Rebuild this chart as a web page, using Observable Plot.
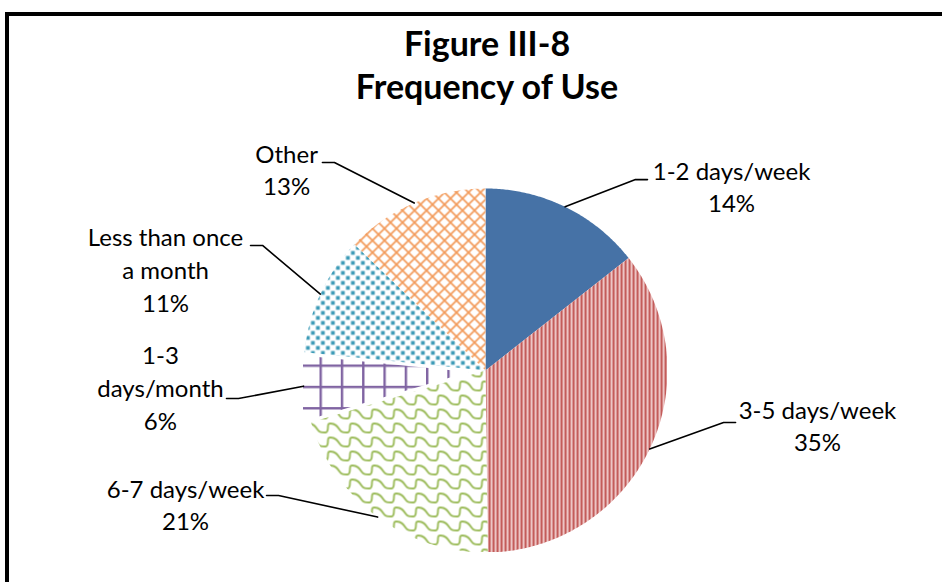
<!DOCTYPE html>
<html><head><meta charset="utf-8">
<script src="https://cdn.jsdelivr.net/npm/d3@7"></script>
<script src="https://cdn.jsdelivr.net/npm/@observablehq/plot@0.6"></script>
<style>
html,body{margin:0;padding:0;background:#fff;width:942px;height:582px;overflow:hidden;}
#box{position:absolute;left:5px;top:12px;width:1000px;height:700px;border-top:4px solid #000;border-left:4px solid #000;}
#title{position:absolute;left:0;top:21px;width:974px;text-align:center;font-family:Lato,sans-serif;font-weight:bold;font-size:34px;line-height:43px;color:#000;}
#chart{position:absolute;left:0;top:0;}
</style></head><body>
<div id="box"></div>
<div id="title">Figure III-8<br>Frequency of Use</div>
<div id="chart"></div>
<script>
// ---- data ----
const categories = ["1-2 days/week", "3-5 days/week", "6-7 days/week", "1-3 days/month", "Less than once a month", "Other"];
const labelLines = [["1-2 days/week"], ["3-5 days/week"], ["6-7 days/week"], ["1-3", "days/month"], ["Less than once", "a month"], ["Other"]];
const values = [14.4, 35.4, 20.6, 6.2, 10.6, 12.8];
const exploded = [0, 0, 0, 0.093, 0, 0];
const colors = ["#4672A6", "#C0504D", "#9BBB59", "#8064A2", "#4BACC6", "#F79646"];
const patternIds = ["solid", "vstripes", "shingle", "grid", "dots", "diagcross"];
// label layout (in pie-radius units, relative to pie centre)
const labelAnchors = [[1.352, 1.016], [1.824, -0.297], [-1.648, -0.731], [-1.786, -0.088], [-1.758, 0.560], [-1.093, 1.109]];
const leaderEnds = [[0.890, 1.049], [1.374, -0.286], [-1.203, -0.687], [-1.423, -0.154], [-1.291, 0.687], [-0.896, 1.143]];

// ---- geometry ----
const R = 182;
const total = d3.sum(values);
let acc = 0;
const slices = [], leaders = [], labels = [];
values.forEach((v, i) => {
  const a0 = acc / total * 2 * Math.PI; acc += v; const a1 = acc / total * 2 * Math.PI;
  const mid = (a0 + a1) / 2;
  const ox = exploded[i] * Math.sin(mid), oy = exploded[i] * Math.cos(mid);
  const n = Math.max(2, Math.ceil((a1 - a0) / (Math.PI / 360)));
  const ring = [[ox, oy]];
  for (let k = 0; k <= n; k++) { const a = a0 + (a1 - a0) * k / n; ring.push([ox + Math.sin(a), oy + Math.cos(a)]); }
  ring.push([ox, oy]);
  const fill = patternIds[i] === "solid" ? colors[i] : `url(#${patternIds[i]})`;
  slices.push({type: "Feature", properties: {name: categories[i], fill}, geometry: {type: "Polygon", coordinates: [ring]}});
  // leader
  const end = leaderEnds[i];
  const tick = 12 / R;
  const elbow = [end[0] + (end[0] > 0 ? -tick : tick), end[1]];
  let p = [ox + Math.sin(mid), oy + Math.cos(mid)];
  if (Math.abs(p[0]) > 1) { // stop at the plot-area edge
    const t = (Math.sign(p[0]) - elbow[0]) / (p[0] - elbow[0]);
    p = [elbow[0] + t * (p[0] - elbow[0]), elbow[1] + t * (p[1] - elbow[1])];
  }
  leaders.push({type: "Feature", properties: {}, geometry: {type: "LineString", coordinates: [p, elbow, end]}});
  labels.push({x: labelAnchors[i][0], y: labelAnchors[i][1], text: [...labelLines[i], Math.round(v) + "%"].join("\n")});
});

const chart = Plot.plot({
  width: 942, height: 582,
  marginLeft: 303, marginRight: 275, marginTop: 188, marginBottom: 30,
  style: {background: "none", overflow: "visible"},
  projection: {type: "reflect-y", domain: {type: "MultiPoint", coordinates: [[-1, -1], [1, 1]]}, inset: 0, clip: false},
  color: {type: "identity"},
  marks: [
    Plot.geo(slices, {fill: d => d.properties.fill, stroke: "none", clip: "frame"}),
    Plot.geo(leaders, {stroke: "#000", strokeWidth: 1.6, fill: "none"}),
    Plot.text(labels, {x: "x", y: "y", text: "text", fontFamily: "Lato", fontSize: 24, lineHeight: 1.36, fill: "#000", textAnchor: "middle"})
  ]
});

// patterns
const svg = d3.select(chart);
const defs = svg.insert("defs", ":first-child");
let p;
p = defs.append("pattern").attr("id", "vstripes").attr("patternUnits", "userSpaceOnUse").attr("width", 4).attr("height", 4);
p.append("rect").attr("width", 4).attr("height", 4).attr("fill", "#F8E4E4");
p.append("rect").attr("x", 0).attr("width", 1.8).attr("height", 4).attr("fill", "#BC4A47");
p.append("rect").attr("x", 1.8).attr("width", 0.9).attr("height", 4).attr("fill", "#D98C8A");

p = defs.append("pattern").attr("id", "shingle").attr("patternUnits", "userSpaceOnUse").attr("width", 22).attr("height", 14);
p.append("rect").attr("width", 22).attr("height", 14).attr("fill", "#fff");
p.append("path").attr("d", "M-1,3 C5,3 7,6 9,9 S13,12 17,12 C19,12 19.5,9 19.5,6 S20.5,3 23,3").attr("fill", "none").attr("stroke", colors[2]).attr("stroke-width", 1.9);
p.append("path").attr("d", "M-1,17 C5,17 7,20 9,23 M17,-2 C19,-2 19.5,-5 19.5,-8").attr("fill", "none").attr("stroke", colors[2]).attr("stroke-width", 1.9);

p = defs.append("pattern").attr("id", "grid").attr("patternUnits", "userSpaceOnUse").attr("width", 21.3).attr("height", 21.3).attr("x", 319).attr("y", 364);
p.append("rect").attr("width", 21.3).attr("height", 21.3).attr("fill", "#fff");
p.append("rect").attr("x", 0).attr("width", 2.4).attr("height", 21.3).attr("fill", colors[3]);
p.append("rect").attr("y", 0).attr("height", 2.4).attr("width", 21.3).attr("fill", colors[3]);

p = defs.append("pattern").attr("id", "dots").attr("patternUnits", "userSpaceOnUse").attr("width", 10).attr("height", 10);
p.append("rect").attr("width", 10).attr("height", 10).attr("fill", "#fff");
p.append("rect").attr("x", 0.5).attr("y", 0.5).attr("width", 3.8).attr("height", 3.8).attr("fill", "#3D9BB7");
p.append("rect").attr("x", 5.5).attr("y", 5.5).attr("width", 3.8).attr("height", 3.8).attr("fill", "#3D9BB7");

p = defs.append("pattern").attr("id", "diagcross").attr("patternUnits", "userSpaceOnUse").attr("width", 12).attr("height", 12);
p.append("rect").attr("width", 12).attr("height", 12).attr("fill", "#fff");
p.append("path").attr("d", "M-1,-1 L13,13 M13,-1 L-1,13").attr("stroke", "#F29A5A").attr("stroke-width", 1.7);

document.getElementById("chart").appendChild(chart);
</script>
</body></html>
